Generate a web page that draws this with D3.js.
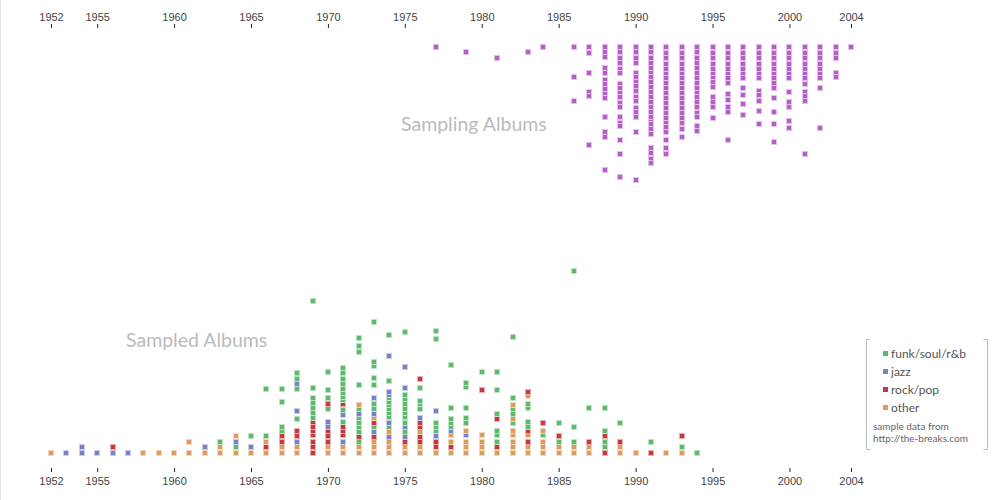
<!DOCTYPE html>
<html>
<head>
<meta charset="utf-8">
<script src="https://cdn.jsdelivr.net/npm/d3@7"></script>
<style>
  body { margin: 0; background: #fff; }
  svg { display: block; font-family: Lato, "Open Sans", sans-serif; }
  .axis text { fill: #444; font-size: 11px; }
  .axis line { stroke: #222; }
</style>
</head>
<body>
<div id="chart"></div>
<script>
const tickYears = [1952, 1955, 1960, 1965, 1970, 1975, 1980, 1985, 1990, 1995, 2000, 2004];

// sampling albums (top), rows hang down from the axis
const sampling = [
  [1977, [0]], [1979, [1]], [1981, [2]], [1983, [1]], [1984, [0]],
  [1986, [0, 5.4, 9.7]],
  [1987, [0, 1.1, 4.7, 8.1, 8.8, 17.7]],
  [1988, [0, 1, 1.9, 3.9, 4.7, 6, 6.8, 7.7, 8.5, 9.3, 12.6, 15.3, 16.2, 22.3]],
  [1989, [0, 1, 2, 3, 4, 4.8, 6.8, 7.5, 8.3, 9.1, 10.1, 10.8, 12.6, 13.8, 14.3, 16.8, 19.3, 23.4]],
  [1990, [0, 1, 2, 3, 4.7, 5.4, 6.3, 7.1, 8, 9, 9.8, 11, 11.7, 12.6, 15.3, 24]],
  [1991, [0, 1, 2, 2.9, 3.8, 4.7, 5.4, 6.3, 7.2, 8.1, 9, 9.9, 10.8, 11.7, 12.6, 13.5, 14, 14.9, 15.7, 18.3, 19.2, 20.2, 21]],
  [1992, [0, 1.1, 2, 3.1, 4, 4.9, 5.7, 6.6, 7.5, 8.4, 9.3, 10.2, 11, 11.9, 12.8, 13.7, 14.4, 15.3, 16.8, 18.2, 19.4]],
  [1993, [0, 1.1, 2, 3.1, 4, 4.9, 5.7, 6.6, 7.5, 8.4, 9.3, 10.2, 11, 11.9, 12.9, 13.8, 14.9, 16.2]],
  [1994, [0, 1, 2, 3, 3.9, 4.8, 5.7, 6.6, 7.5, 8.4, 9.1, 9.9, 10.8, 12, 12.6, 14.3, 15.1]],
  [1995, [0, 1.1, 2, 3.1, 4, 4.9, 5.6, 6.4, 7.2, 9, 9.9, 10.8, 12.9]],
  [1996, [0, 1.1, 2, 3.1, 4, 4.9, 5.7, 6.6, 8.6, 9.6, 10.8, 11.7, 16.8]],
  [1997, [0, 1.1, 2, 3.1, 4, 4.9, 5.7, 7.5, 8.7, 10.3, 12.3]],
  [1998, [0, 1.1, 2, 3.1, 4, 4.9, 5.7, 8, 8.7, 9.8, 11.5, 13.9]],
  [1999, [0, 1.1, 2, 3.1, 4, 4.9, 5.7, 6.6, 7.5, 9.2, 11.7, 13.9, 17.1]],
  [2000, [0, 1.1, 2, 3.1, 4, 4.9, 5.7, 8.1, 9.9, 10.8, 13.4, 14.6]],
  [2001, [0, 1.1, 2, 3.1, 4, 4.9, 5.7, 6.8, 8.1, 8.8, 9.7, 19.3]],
  [2002, [0, 1.1, 2, 3.1, 4, 4.9, 5.7, 7.5, 14.6]],
  [2003, [0, 1.1, 2, 4.7, 5.4]],
  [2004, [0]]
];

// sampled albums (bottom), rows stack up from the baseline
const funkSampled = [
  [1963, [2]], [1964, [1]], [1965, [3]], [1966, [3, 11.4]],
  [1967, [4, 4.7, 9.1, 11.4]],
  [1968, [6.1, 11.5, 13.3, 14.3]],
  [1969, [6.3, 7.1, 8.1, 9, 9.9, 11.6, 27.3]],
  [1970, [7.9, 9.8, 11.35, 14.6]],
  [1971, [5.6, 7.7, 9.5, 10.1, 10.7, 11.5, 12.3, 13.3, 14.3, 15.3]],
  [1972, [2, 3.8, 4.7, 5.4, 6.2, 7.9, 12.2, 18.2, 19.2, 20.7]],
  [1973, [4.7, 7.9, 8.7, 12.2, 13.4, 15.6, 16.3, 23.6]],
  [1974, [4.7, 6.4, 7.1, 7.9, 8.6, 9.2, 9.8, 13, 21.2]],
  [1975, [3.8, 5.4, 6.4, 7.1, 7.9, 8.7, 9.6, 10.4, 21.8]],
  [1976, [7.9, 8.7, 9.4, 11.7]],
  [1977, [3.9, 4.7, 5.4, 20.5, 22]],
  [1978, [4.6, 5.35, 6.1, 8.1, 15.8]],
  [1979, [5.35, 6.2, 8.1, 11.9, 12.5]],
  [1980, [14.6]],
  [1981, [2, 3.1, 3.9, 6.9, 11.35, 14.6]],
  [1982, [5.35, 6.9, 7.9, 9.8, 20.9]],
  [1983, [4.6, 5.5, 8.1, 8.8]],
  [1984, [3.1]], [1985, [2, 5.4]], [1986, [2, 4.7, 32.8]], [1987, [8.1]],
  [1988, [1, 2, 3.9, 8.1]], [1989, [5.4]], [1991, [2]], [1993, [1]], [1994, [0]]
];
const jazzSampled = [
  [1953, [0]], [1954, [0, 1]], [1955, [0]], [1956, [0]], [1957, [0]],
  [1962, [1]], [1964, [2]], [1965, [1]],
  [1968, [2, 7.6, 12.3]], [1970, [4.7, 5.5]], [1971, [2, 6.8]], [1972, [7]],
  [1973, [3.8, 7, 9.8]], [1974, [2.9, 5.4, 10.4, 11, 17.5]],
  [1975, [2.9, 4.7, 11.7, 15.5]], [1976, [6.2]], [1977, [3, 7.6]],
  [1978, [3.9]], [1979, [3.1]]
];
const rockSampled = [
  [1956, [1]], [1966, [1]], [1967, [2, 3]], [1968, [3, 4]],
  [1969, [0, 1, 2, 3.1, 4, 4.7, 5.5]], [1970, [2, 3, 4, 8.8]],
  [1971, [3.1, 4, 4.7, 8.7]], [1972, [2.9]], [1973, [2.9, 5.4]], [1975, [2]],
  [1976, [2, 2.9, 4.7, 5.4, 13.3]], [1977, [1, 2]], [1978, [1]], [1980, [11.35]],
  [1981, [1, 6.1]], [1983, [2, 3.9, 11]], [1984, [5.35]], [1985, [3]],
  [1987, [2]], [1988, [0, 3]], [1989, [2]], [1991, [0]], [1993, [3]]
];
const otherSampled = [
  [1952, [0]], [1958, [0]], [1959, [0]], [1960, [0]], [1961, [0, 2]], [1962, [0]],
  [1963, [0, 1]], [1964, [0, 3]], [1965, [0]], [1966, [0, 2]], [1967, [0, 1]],
  [1968, [0, 1]], [1970, [0, 1]], [1971, [0, 1]], [1972, [0, 1.1, 8.6]],
  [1973, [0, 1.1, 2, 6.2]], [1974, [0, 1.1, 2, 3.8]], [1975, [0, 1.1]],
  [1976, [0, 1.1, 3.8]], [1977, [0]], [1978, [0, 2, 3.1]], [1979, [0, 1, 2, 3.9]],
  [1980, [0, 1, 2, 3.1]], [1981, [0]], [1982, [0, 1, 2, 3.1, 3.9, 6.1, 8.6]],
  [1983, [0, 1, 3.1, 10.3]], [1984, [0, 1, 2, 3.9]], [1985, [0, 1]], [1986, [0, 1]],
  [1987, [0, 1]], [1989, [0, 1]], [1990, [0]], [1992, [0]], [1993, [0]]
];

const genres = ["funk/soul/r&b", "jazz", "rock/pop", "other"];
const genreColors = ["#5db96b", "#7881c6", "#c5383b", "#dc9a5c"];
const samplingColor = "#b55ec6";

const width = 1001, height = 500;

const svg = d3.select("#chart").append("svg")
    .attr("width", width)
    .attr("height", height);

svg.append("line")
    .attr("x1", 0.5).attr("x2", 0.5)
    .attr("y1", 0).attr("y2", height)
    .attr("stroke", "#e8e8e8");

const x = d3.scaleLinear().domain([1952, 2004]).range([51, 851]);
const yTop = d3.scaleLinear().domain([0, 24]).range([46.7, 46.7 + 24 * 5.55]);
const yBottom = d3.scaleLinear().domain([0, 33]).range([452.7, 452.7 - 33 * 5.55]);

const color = d3.scaleOrdinal().domain(genres).range(genreColors);

function light(c) {
    return d3.interpolateRgb(c, "#fff")(0.6);
}

function flatten(arr, cat) {
    return arr.flatMap(([yr, vs]) => vs.map(v => ({ year: yr, v: v, cat: cat })));
}

// crisp squares: 5px box + 1px pale stroke -> ~4px dark core, 6px overall
function px(v) { return Math.round(v) - 2.5; }

// axes
const axisTop = d3.axisTop(x).tickValues(tickYears).tickFormat(d3.format("d"))
    .tickSize(4).tickPadding(3);
const axisBottom = d3.axisBottom(x).tickValues(tickYears).tickFormat(d3.format("d"))
    .tickSize(4).tickPadding(5);

svg.append("g").attr("class", "axis")
    .attr("transform", "translate(0,28)")
    .call(axisTop)
    .call(g => g.select(".domain").remove());

svg.append("g").attr("class", "axis")
    .attr("transform", "translate(0,468)")
    .call(axisBottom)
    .call(g => g.select(".domain").remove());

// labels
svg.append("text")
    .attr("x", 401).attr("y", 131)
    .attr("fill", "#bbb")
    .style("font-size", "19.5px")
    .text("Sampling Albums");

svg.append("text")
    .attr("x", 126).attr("y", 347)
    .attr("fill", "#bbb")
    .style("font-size", "19.5px")
    .text("Sampled Albums");

// top squares
const topData = flatten(sampling, "sampling");
svg.append("g").selectAll("rect")
    .data(topData)
    .enter().append("rect")
    .attr("x", d => px(x(d.year)))
    .attr("y", d => px(yTop(d.v)))
    .attr("width", 5)
    .attr("height", 5)
    .attr("fill", samplingColor)
    .attr("stroke", light(samplingColor))
    .attr("stroke-width", 1);

// bottom squares
const bottomData = [].concat(
    flatten(funkSampled, genres[0]),
    flatten(jazzSampled, genres[1]),
    flatten(rockSampled, genres[2]),
    flatten(otherSampled, genres[3])
).sort((a, b) => a.v - b.v);

svg.append("g").selectAll("rect")
    .data(bottomData)
    .enter().append("rect")
    .attr("x", d => px(x(d.year)))
    .attr("y", d => px(yBottom(d.v)))
    .attr("width", 5)
    .attr("height", 5)
    .attr("fill", d => color(d.cat))
    .attr("stroke", d => light(color(d.cat)))
    .attr("stroke-width", 1);

// legend
const legend = svg.append("g").attr("transform", "translate(866,339)");
legend.append("path")
    .attr("d", "M4.5,0.5H0.5V110.5H4.5 M117.5,0.5H121.5V110.5H117.5")
    .attr("fill", "none")
    .attr("stroke", "#bbb");

const items = legend.selectAll(".item")
    .data(genres)
    .enter().append("g")
    .attr("class", "item")
    .attr("transform", (d, i) => `translate(0,${14 + i * 18})`);

items.append("rect")
    .attr("x", 17).attr("y", -2)
    .attr("width", 5).attr("height", 5)
    .attr("fill", d => color(d));

items.append("text")
    .attr("x", 25).attr("y", 4.5)
    .attr("fill", "#555")
    .style("font-size", "12px")
    .text(d => d);

legend.append("text")
    .attr("x", 7).attr("y", 91)
    .attr("fill", "#666")
    .style("font-size", "10px")
    .text("sample data from");
legend.append("text")
    .attr("x", 7).attr("y", 103)
    .attr("fill", "#666")
    .style("font-size", "10px")
    .text("http://the-breaks.com");
</script>
</body>
</html>
